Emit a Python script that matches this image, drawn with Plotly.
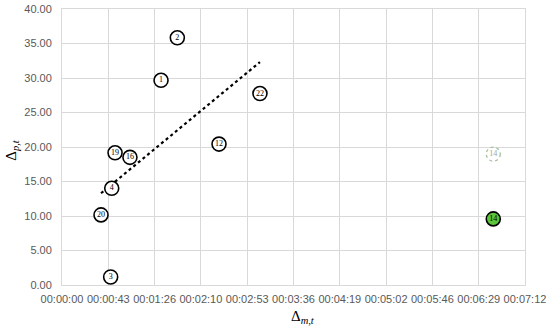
import plotly.graph_objects as go
import numpy as np

# participant ids and their deltas (x in seconds, y in points)
labels = ["1", "2", "3", "4", "12", "16", "19", "20", "22"]
delta_m = [92.4, 107.6, 45.4, 46.4, 146.5, 63.4, 49.5, 36.4, 184.7]
delta_p = [29.67, 35.83, 1.16, 14.02, 20.42, 18.50, 19.16, 10.16, 27.75]

# outlier participant 14 (filled) and its previous position (dotted)
out_label = ["14"]
out_m = [402.4]
out_p = [9.58]
prev_m = [402.4]
prev_p = [18.97]

x_ticks = [0, 43.2, 86.4, 129.6, 172.8, 216.0, 259.2, 302.4, 345.6, 388.8, 432.0]
x_ticktext = ["00:00:00", "00:00:43", "00:01:26", "00:02:10", "00:02:53", "00:03:36",
              "00:04:19", "00:05:02", "00:05:46", "00:06:29", "00:07:12"]

# linear trend over the main group
slope, intercept = np.polyfit(delta_m, delta_p, 1)
trend_x = [min(delta_m), max(delta_m)]
trend_y = [slope * v + intercept for v in trend_x]

fig = go.Figure()

fig.add_trace(go.Scatter(
    x=trend_x, y=trend_y, mode="lines",
    line=dict(color="black", width=2.2, dash="dot"),
    hoverinfo="skip"
))

fig.add_trace(go.Scatter(
    x=delta_m, y=delta_p, mode="markers+text",
    text=labels, textposition="middle center",
    textfont=dict(family="Liberation Serif", size=8, color="black"),
    marker=dict(size=14, color="white", line=dict(color="black", width=1.6))
))

fig.add_trace(go.Scatter(
    x=prev_m, y=prev_p, mode="text",
    text=out_label, textposition="middle center",
    textfont=dict(family="Liberation Serif", size=8, color="#9aa89a")
))

fig.add_trace(go.Scatter(
    x=out_m, y=out_p, mode="markers+text",
    text=out_label, textposition="middle center",
    textfont=dict(family="Liberation Serif", size=8, color="black"),
    marker=dict(size=14, color="#5cc63a", line=dict(color="black", width=1.6))
))

# dotted ring around the previous position
for xm, yp in zip(prev_m, prev_p):
    fig.add_shape(type="circle", xref="x", yref="y",
                  xsizemode="pixel", ysizemode="pixel",
                  xanchor=xm, yanchor=yp, x0=-7, x1=7, y0=-7, y1=7,
                  line=dict(color="#a8bfa0", width=1.3, dash="dot"))

axis_font = dict(family="Liberation Sans", size=11, color="#595959")

fig.update_xaxes(
    range=[0, 432], tickvals=x_ticks, ticktext=x_ticktext,
    showgrid=True, gridcolor="#d9d9d9", gridwidth=1,
    showline=True, linecolor="#d9d9d9", mirror=True, zeroline=False,
    tickfont=axis_font, ticks="", automargin=False, ticklabelstandoff=4
)
fig.update_yaxes(
    range=[0, 40], dtick=5, tickformat=".2f",
    showgrid=True, gridcolor="#d9d9d9", gridwidth=1,
    showline=True, linecolor="#d9d9d9", mirror=True, zeroline=False,
    tickfont=axis_font, ticks="", automargin=False, ticklabelstandoff=7
)

title_font = dict(family="Liberation Serif", size=15, color="black")
fig.add_annotation(text="Δ<sub><i>m,t</i></sub>", xref="paper", yref="paper",
                   x=0.52, y=-0.115, showarrow=False, font=title_font,
                   xanchor="center", yanchor="middle")
fig.add_annotation(text="Δ<sub><i>p,t</i></sub>", xref="paper", yref="paper",
                   x=-0.108, y=0.49, showarrow=False, font=title_font,
                   textangle=-90, xanchor="center", yanchor="middle")

fig.update_layout(
    width=550, height=329,
    margin=dict(l=62, r=25, t=9, b=44),
    plot_bgcolor="white", paper_bgcolor="white",
    showlegend=False
)

fig.write_html("out.html", config={"displayModeBar": False},
               post_script="document.body.style.margin='0';")
